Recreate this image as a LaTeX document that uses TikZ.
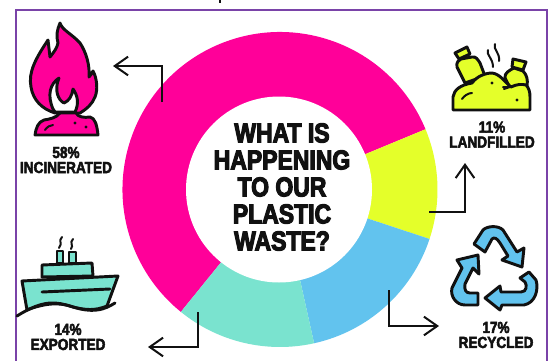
\documentclass[tikz,border=0pt]{standalone}
\usepackage{fontspec}
\usetikzlibrary{arrows.meta}
\newfontfamily\titlefont[FakeStretch=0.84,FakeBold=4]{Liberation Sans Bold}
\newfontfamily\labelfont[FakeStretch=0.85,FakeBold=3]{Liberation Sans Bold}
\definecolor{cpink}{HTML}{FF0099}
\definecolor{cyellow}{HTML}{E4FF2A}
\definecolor{cblue}{HTML}{62C3EE}
\definecolor{cteal}{HTML}{7AE3CF}
\definecolor{cframe}{HTML}{7A43A8}
\definecolor{cink}{HTML}{111111}
\tikzset{
  icon/.style={draw=cink,line width=2.2pt,line join=round,line cap=round},
  thin icon/.style={draw=cink,line width=1.5pt,line cap=round},
  leader/.style={draw=cink,line width=1.5pt,line join=miter,-{Straight Barb[length=10pt,width=14pt,line width=1.5pt]}},
  pct/.style={font=\labelfont\fontsize{12}{11.25}\selectfont,align=center,text=cink,inner sep=0pt}
}
\begin{document}
\begin{tikzpicture}[x=0.75pt,y=-0.75pt]
\useasboundingbox (0,0) rectangle (551,361);
\fill[white] (0,0) rectangle (551,361);
% clipped remnant at the top edge
\fill[cink] (219,0) rectangle (221,3);
% frame
\draw[cframe,line width=1.5pt] (15.5,365) -- (15.5,9.5) -- (547,9.5) -- (547,365);
% donut
\begin{scope}[y=0.75pt]
\path[fill=cpink] (280,-189.5) -- ++(22.5:157.5) arc[start angle=22.5,end angle=231,radius=157.5] -- cycle;
\path[fill=cyellow] (280,-189.5) -- ++(-18.3:157.5) arc[start angle=-18.3,end angle=22.5,radius=157.5] -- cycle;
\path[fill=cblue] (280,-189.5) -- ++(-77.5:157.5) arc[start angle=-77.5,end angle=-18.3,radius=157.5] -- cycle;
\path[fill=cteal] (280,-189.5) -- ++(231:157.5) arc[start angle=231,end angle=282.5,radius=157.5] -- cycle;
\path[fill=white] (279,-189.5) circle[radius=93];
\end{scope}
\node[font=\titlefont\fontsize{20.5}{20.25}\selectfont,align=center,text=cink,inner sep=0pt] (title) at (282,187) {WHAT IS\\HAPPENING\\TO OUR\\PLASTIC\\WASTE?};
% flame
\path[icon,fill=cpink] (60,23) .. controls (62,30) and (72,34) .. (80,43) .. controls (86,52) and (90,65) .. (89,77) .. controls (91,75) and (92,73) .. (93,71) .. controls (97,78) and (98,90) .. (95,97) .. controls (92,104) and (88,108) .. (80,113) -- (55,113) .. controls (42,109) and (33,100) .. (31,87) .. controls (28,72) and (36,58) .. (48,40) -- (50,57) .. controls (54,52) and (57,48) .. (58,43) .. controls (56,36) and (57,30) .. (60,23) -- cycle;
\path[icon,fill=white] (59,78) .. controls (50,84) and (47,95) .. (53,109) -- (55,112) -- (75,112) .. controls (79,104) and (78,96) .. (73,89) .. controls (72,96) and (69,101) .. (64,103) .. controls (58,100) and (54,90) .. (59,78) -- cycle;
\path[icon,fill=cpink] (35,135) .. controls (36,128) and (38,122) .. (44,120) .. controls (50,119) and (56,118) .. (60,113) -- (76,113) .. controls (78,117) and (84,118) .. (90,117) .. controls (95,118) and (97,125) .. (98,135) -- cycle;
\path[thin icon] (45,130) .. controls (47,127) and (50,125) .. (53,125);
\fill[cink] (75,123) circle[radius=1.6];
\fill[cink] (86,127) circle[radius=1.6];
% ship
\path[icon,fill=cteal] (42,277) -- (42,265) -- (92,263) -- (93,276) -- cycle;
\path[icon,fill=cteal] (57,263) -- (57,251) -- (63,251) -- (63,263) -- cycle;
\path[icon,fill=cteal] (69,263) -- (69,252) -- (76,252) -- (76,263) -- cycle;
\path[icon,fill=cteal] (22,281) -- (118,276) -- (107,306) .. controls (95,311) and (85,310) .. (73,307) .. controls (60,302) and (45,303) .. (27,310) -- cycle;
\path[icon] (17,316) .. controls (28,309) and (42,302) .. (55,303) .. controls (70,304) and (80,312) .. (97,310) .. controls (105,309) and (110,306) .. (115,303);
\path[icon] (42,292) -- (110,289);
\path[thin icon] (62,237) .. controls (58,241) and (63,243) .. (59,248);
\path[thin icon] (73,239) .. controls (69,243) and (74,245) .. (71,249);
% landfill
\path[icon,fill=cyellow] (465,83) -- (457,67) .. controls (456,62) and (459,60) .. (461,59) -- (472,57) .. controls (476,56) and (478,60) .. (480,63) -- (485,76) -- cycle;
\path[icon,fill=cyellow] (455,53) -- (467,47) -- (470,54) -- (459,59) -- cycle;
\path[icon,fill=cyellow] (505,78) .. controls (504,73) and (510,70) .. (514,68) -- (523,71) .. controls (527,75) and (528,80) .. (527,86) -- (510,88) -- cycle;
\path[icon,fill=cyellow] (513,59) -- (526,62) -- (523,70) -- (512,67) -- cycle;
\path[icon,fill=cyellow] (453,110) -- (453,97) .. controls (454,90) and (460,85) .. (472,83) .. controls (477,76) and (486,73) .. (492,73) .. controls (500,74) and (505,82) .. (511,87) .. controls (517,84) and (522,84) .. (526,85) .. controls (529,88) and (530,92) .. (530,97) -- (530,110) -- cycle;
\path[thin icon] (503,87) -- (510,87) -- (504,89);
\path[thin icon] (488,50) .. controls (486,55) and (493,58) .. (493,67);
\path[thin icon] (495,44) .. controls (493,50) and (500,52) .. (499,61);
\path[thin icon] (462,99) .. controls (464,96) and (468,93) .. (472,93);
\fill[cink] (492,83) circle[radius=1.6];
\fill[cink] (517,100) circle[radius=1.7];
% recycle
\path[icon,fill=cblue] (474,244) -- (483,230) .. controls (487,226) and (498,225) .. (503,230) -- (517,252) -- (524,248) -- (522,267) -- (502,260) -- (508,256) -- (500,243) .. controls (497,238) and (494,237) .. (492,239) -- (485,252) -- cycle;
\path[icon,fill=cblue] (478,305) -- (465,305) .. controls (456,305) and (450,296) .. (452,288) -- (462,268) -- (457,260) -- (478,255) -- (479,274) -- (473,268) -- (465,284) .. controls (464,290) and (466,293) .. (470,293) -- (478,293) -- cycle;
\path[icon,fill=cblue] (529,272) -- (536,280) .. controls (539,290) and (535,303) .. (524,305) -- (502,305) -- (500,310) -- (485,298) -- (500,286) -- (501,292) -- (521,292) .. controls (527,292) and (527,285) .. (525,282) -- (520,278) -- cycle;
% leaders
\coordinate (a1) at (162,102);
\coordinate (a2) at (162,66);
\coordinate (a3) at (113,66);
\draw[leader] (a1) -- (a2) -- (a3);
\coordinate (b1) at (198,312);
\coordinate (b2) at (198,347);
\coordinate (b3) at (148,347);
\draw[leader] (b1) -- (b2) -- (b3);
\coordinate (c1) at (389,290);
\coordinate (c2) at (389,326);
\coordinate (c3) at (439,326);
\draw[leader] (c1) -- (c2) -- (c3);
\coordinate (d1) at (429,212);
\coordinate (d2) at (465,212);
\coordinate (d3) at (465,163);
\draw[leader] (d1) -- (d2) -- (d3);
% labels
\node[pct] (lab1) at (66,160) {58\%\\INCINERATED};
\node[pct] (lab2) at (68,337) {14\%\\EXPORTED};
\node[pct] (lab3) at (492,134.5) {11\%\\LANDFILLED};
\node[pct] (lab4) at (496,335) {17\%\\RECYCLED};
\end{tikzpicture}
\end{document}
